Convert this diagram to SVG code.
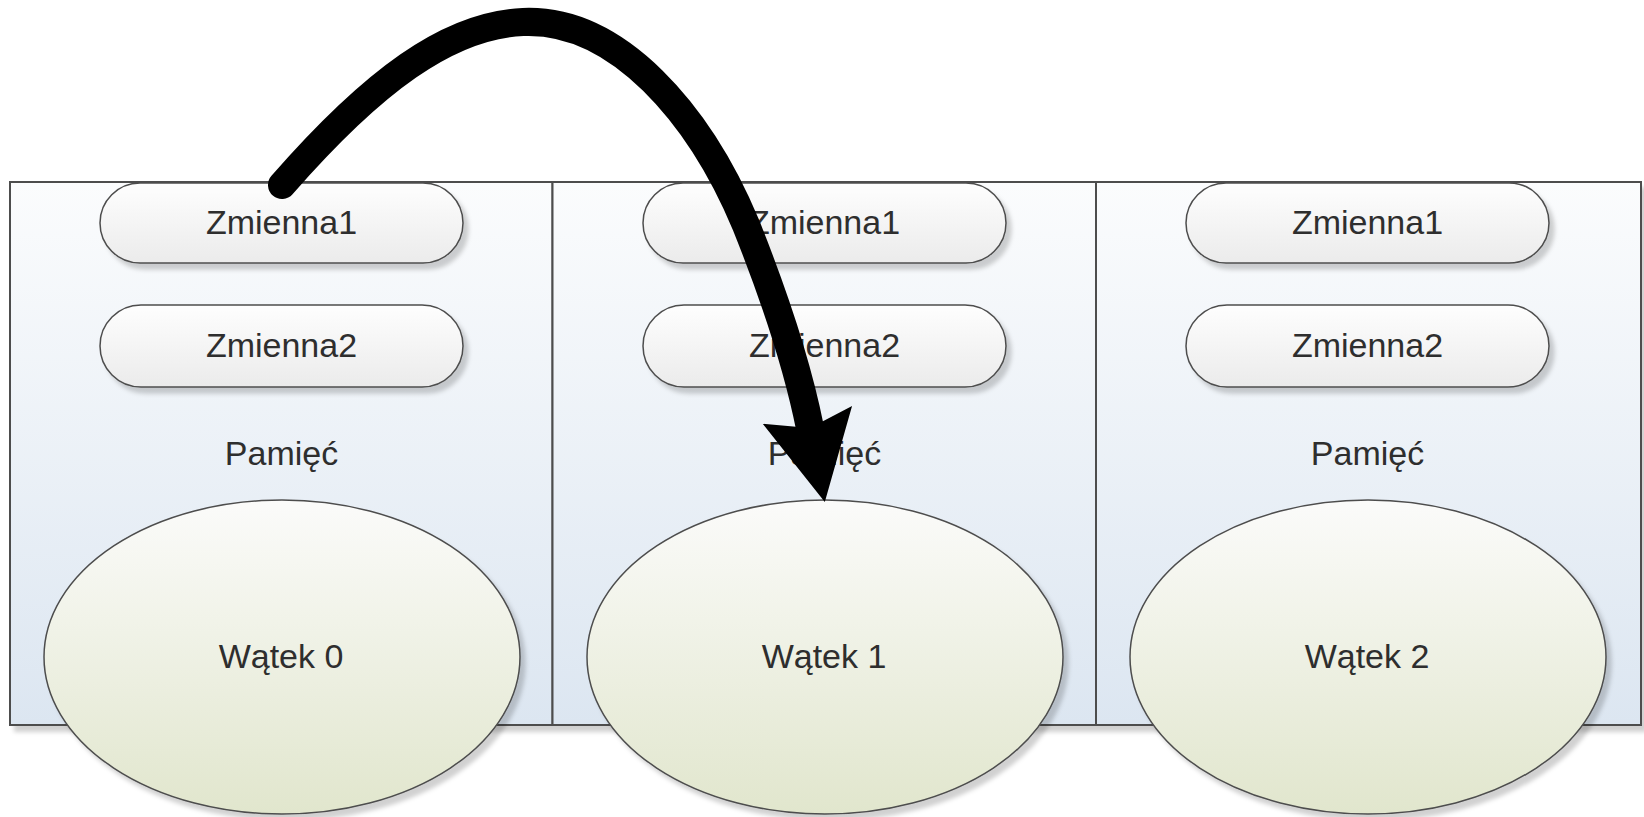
<svg xmlns="http://www.w3.org/2000/svg" width="1644" height="817" viewBox="0 0 1644 817">
  <defs>
    <linearGradient id="gCol" x1="0" y1="0" x2="0" y2="1">
      <stop offset="0" stop-color="#fbfcfd"/>
      <stop offset="1" stop-color="#dce6f1"/>
    </linearGradient>
    <linearGradient id="gPill" x1="0" y1="0" x2="0" y2="1">
      <stop offset="0" stop-color="#fefefe"/>
      <stop offset="1" stop-color="#ebebeb"/>
    </linearGradient>
    <linearGradient id="gEll" x1="0" y1="0" x2="0" y2="1">
      <stop offset="0" stop-color="#fbfbfa"/>
      <stop offset="1" stop-color="#e1e6cd"/>
    </linearGradient>
    <filter id="sh" x="-10%" y="-10%" width="125%" height="130%">
      <feDropShadow dx="5" dy="6" stdDeviation="2" flood-color="#000" flood-opacity="0.18"/>
    </filter>
    <marker id="ah" markerUnits="userSpaceOnUse" markerWidth="100" markerHeight="100" viewBox="0 -45 90 90" refX="12" refY="0" orient="auto">
      <path d="M0,-41 L80,0 L0,41 L12,0 Z" fill="#000"/>
    </marker>
    <style>
      .col{fill:url(#gCol);stroke:#4d4d4d;stroke-width:2}
      .pill{fill:url(#gPill);stroke:#4d4d4d;stroke-width:1.5;filter:url(#sh)}
      .ell{fill:url(#gEll);stroke:#4d4d4d;stroke-width:1.5;filter:url(#sh)}
      .t{font-family:"Liberation Sans",Arial,sans-serif;font-size:34px;fill:#2e2e2e;text-anchor:middle}
      .conn{fill:none;stroke:#000;stroke-width:28;stroke-linecap:round}
    </style>
  </defs>

  <g id="memory" filter="url(#sh)">
    <rect class="col" x="10" y="182" width="1631" height="543" style="filter:none"/>
  </g>

  <g id="col0">
    <rect class="col" x="10" y="182" width="542.5" height="543"/>
    <rect class="pill" x="100" y="183" width="363" height="80" rx="40"/>
    <text class="t" x="281.5" y="234">Zmienna1</text>
    <rect class="pill" x="100" y="305" width="363" height="82" rx="41"/>
    <text class="t" x="281.5" y="357">Zmienna2</text>
    <text class="t" x="281.5" y="465">Pamięć</text>
  </g>
  <g id="col1">
    <rect class="col" x="552.5" y="182" width="543.5" height="543"/>
    <rect class="pill" x="643" y="183" width="363" height="80" rx="40"/>
    <text class="t" x="824.5" y="234">Zmienna1</text>
    <rect class="pill" x="643" y="305" width="363" height="82" rx="41"/>
    <text class="t" x="824.5" y="357">Zmienna2</text>
    <text class="t" x="824.5" y="465">Pamięć</text>
  </g>
  <g id="col2">
    <rect class="col" x="1096" y="182" width="545" height="543"/>
    <rect class="pill" x="1186" y="183" width="363" height="80" rx="40"/>
    <text class="t" x="1367.5" y="234">Zmienna1</text>
    <rect class="pill" x="1186" y="305" width="363" height="82" rx="41"/>
    <text class="t" x="1367.5" y="357">Zmienna2</text>
    <text class="t" x="1367.5" y="465">Pamięć</text>
  </g>

  <g id="thread0">
    <ellipse class="ell" cx="282" cy="657" rx="238" ry="157"/>
    <text class="t" x="281" y="668">Wątek 0</text>
  </g>
  <g id="thread1">
    <ellipse class="ell" cx="825" cy="657" rx="238" ry="157"/>
    <text class="t" x="824" y="668">Wątek 1</text>
  </g>
  <g id="thread2">
    <ellipse class="ell" cx="1368" cy="657" rx="238" ry="157"/>
    <text class="t" x="1367" y="668">Wątek 2</text>
  </g>

  <g id="connectors">
    <path class="conn" d="M282,185 C372,82 448,25 523,22 C618,18 700,115 746,225 C776,300 798,368 810,428" marker-end="url(#ah)"/>
  </g>
</svg>
